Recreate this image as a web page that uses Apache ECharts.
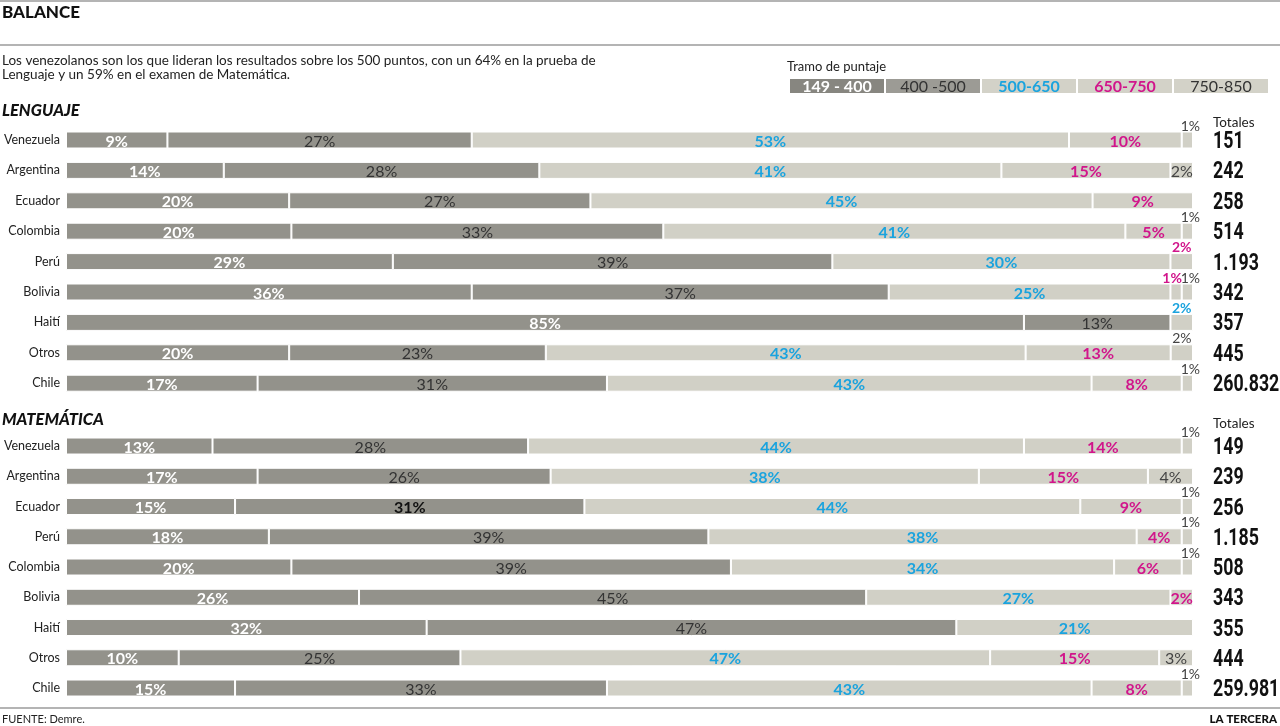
<!DOCTYPE html>
<html>
<head>
<meta charset="utf-8">
<script src="https://cdn.jsdelivr.net/npm/echarts@6/dist/echarts.min.js"></script>
<style>
html,body{margin:0;padding:0;background:#fff;}
#chart{width:1280px;height:726px;}
</style>
</head>
<body>
<div id="chart"></div>
<script>
// ---------- DATA ----------
const bands = ['149 - 400', '400 -500', '500-650', '650-750', '750-850'];

const lengCountries = ['Venezuela', 'Argentina', 'Ecuador', 'Colombia', 'Perú', 'Bolivia', 'Haití', 'Otros', 'Chile'];
const leng149_400 = [9, 14, 20, 20, 29, 36, 85, 20, 17];
const leng400_500 = [27, 28, 27, 33, 39, 37, 13, 23, 31];
const leng500_650 = [53, 41, 45, 41, 30, 25, 2, 43, 43];
const leng650_750 = [10, 15, 9, 5, 2, 1, 0, 13, 8];
const leng750_850 = [1, 2, 0, 1, 0, 1, 0, 2, 1];
const lengTotals = ['151', '242', '258', '514', '1.193', '342', '357', '445', '260.832'];

const matCountries = ['Venezuela', 'Argentina', 'Ecuador', 'Perú', 'Colombia', 'Bolivia', 'Haití', 'Otros', 'Chile'];
const mat149_400 = [13, 17, 15, 18, 20, 26, 32, 10, 15];
const mat400_500 = [28, 26, 31, 39, 39, 45, 47, 25, 33];
const mat500_650 = [44, 38, 44, 38, 34, 27, 21, 47, 43];
const mat650_750 = [14, 15, 9, 4, 6, 2, 0, 15, 8];
const mat750_850 = [1, 4, 1, 1, 1, 0, 0, 3, 1];
const matTotals = ['149', '239', '256', '1.185', '508', '343', '355', '444', '259.981'];

// ---------- STYLE CONFIG ----------
const FONT = 'Lato, "Open Sans", sans-serif';
const barColors = ['#93928b', '#93928b', '#d1d0c6', '#d1d0c6', '#d1d0c6'];
const legendColors = ['#878680', '#9c9b95', '#d3d2c8', '#d3d2c8', '#d3d2c8'];
const labelColors = ['#ffffff', '#333333', '#1aa3de', '#d1158b', '#444444'];
const labelWeights = ['bold', 'normal', 'bold', 'bold', 'normal'];
// labels placed above the bar: [row, bandIndex]
const aboveL = [[0,4],[3,4],[4,3],[5,3],[5,4],[6,2],[7,4],[8,4]];
const aboveM = [[0,4],[2,4],[3,4],[4,4],[8,4]];
const boldDarkM = [[2,1]];

function has(list, r, s) { return list.some(p => p[0] === r && p[1] === s); }

function buildSeries(arrays, stack, xi, yi, above, boldDark) {
  const n = arrays[0].length;
  const sums = [];
  for (let r = 0; r < n; r++) { let s = 0; arrays.forEach(a => s += a[r]); sums.push(s); }
  return arrays.map((arr, si) => ({
    name: bands[si],
    type: 'bar',
    stack: stack,
    xAxisIndex: xi,
    yAxisIndex: yi,
    barWidth: 17,
    itemStyle: { color: barColors[si], borderColor: '#ffffff', borderWidth: 1 },
    label: {
      show: true,
      position: 'inside',
      offset: [0, 1.5],
      fontFamily: FONT,
      fontSize: 16,
      color: labelColors[si],
      fontWeight: labelWeights[si],
      formatter: p => p.data.raw ? p.data.raw + '%' : ''
    },
    data: arr.map((v, r) => {
      if (!v) return { value: null, raw: 0 };
      const d = { value: v / sums[r] * 100, raw: v };
      if (has(above, r, si)) {
        let dx = 0;
        if (v === 1) dx = si === 4 ? 3 : -4;
        d.label = { position: 'top', distance: 0, offset: [dx, 1.5], fontSize: 14 };
      } else if (has(boldDark || [], r, si)) {
        d.label = { fontWeight: 'bold', color: '#111' };
      }
      return d;
    })
  }));
}

function totalsSeries(totals, xi, yi) {
  return {
    type: 'custom',
    xAxisIndex: xi,
    yAxisIndex: yi,
    silent: true,
    clip: false,
    data: totals.map((t, i) => [100, i, t]),
    encode: { x: 0, y: 1 },
    renderItem: (params, api) => {
      const pt = api.coord([api.value(0), api.value(1)]);
      return {
        type: 'text',
        x: pt[0] + 20,
        y: pt[1] + 2,
        scaleX: 0.74,
        style: {
          text: totals[params.dataIndex],
          fontFamily: 'Roboto, "DejaVu Sans", sans-serif',
          fontSize: 24,
          fontWeight: 'bold',
          fill: '#111',
          align: 'left',
          verticalAlign: 'middle'
        }
      };
    }
  };
}

const series = [].concat(
  buildSeries([leng149_400, leng400_500, leng500_650, leng650_750, leng750_850], 'L', 0, 0, aboveL, []),
  buildSeries([mat149_400, mat400_500, mat500_650, mat650_750, mat750_850], 'M', 1, 1, aboveM, boldDarkM),
  [totalsSeries(lengTotals, 0, 0), totalsSeries(matTotals, 1, 1)]
);

function catAxis(grid, data) {
  return {
    gridIndex: grid,
    type: 'category',
    data: data,
    inverse: true,
    axisLine: { show: false },
    axisTick: { show: false },
    splitLine: { show: false },
    axisLabel: { margin: 6, fontFamily: FONT, fontSize: 12.5, color: '#222', padding: [0, 0, 4, 0] }
  };
}

// legend graphics
const legendEls = [];
const lgX0 = 790, lgW = 94, lgGap = 2, lgY = 79, lgH = 14;
bands.forEach((b, i) => {
  const x = lgX0 + i * (lgW + lgGap);
  legendEls.push({ type: 'rect', shape: { x: x, y: lgY, width: lgW, height: lgH }, style: { fill: legendColors[i] } });
  legendEls.push({ type: 'text', style: { text: b, x: x + lgW / 2, y: lgY + lgH / 2 + 1, align: 'center', verticalAlign: 'middle',
    fontFamily: FONT, fontSize: 16, fontWeight: labelWeights[i], fill: i === 0 ? '#ffffff' : (i === 1 || i === 4 ? '#333' : labelColors[i]) } });
});

const graphic = [
  { type: 'rect', shape: { x: 0, y: 0, width: 1280, height: 2 }, style: { fill: '#b4b4b4' } },
  { type: 'text', style: { text: 'BALANCE', x: 2, y: 13, verticalAlign: 'middle', fontFamily: FONT, fontSize: 17, fontWeight: 900, fill: '#111' } },
  { type: 'rect', shape: { x: 0, y: 44, width: 1280, height: 2 }, style: { fill: '#b4b4b4' } },
  { type: 'text', style: { text: 'Los venezolanos son los que lideran los resultados sobre los 500 puntos, con un 64% en la prueba de\nLenguaje y un 59% en el examen de Matemática.',
      x: 2, y: 54, lineHeight: 14, fontFamily: FONT, fontSize: 13.5, fill: '#222' } },
  { type: 'text', style: { text: 'Tramo de puntaje', x: 787, y: 67, verticalAlign: 'middle', fontFamily: FONT, fontSize: 13, fill: '#222' } },
  { type: 'text', style: { text: 'LENGUAJE', x: 2, y: 111, verticalAlign: 'middle', fontFamily: FONT, fontSize: 16.5, fontWeight: 900, fontStyle: 'italic', fill: '#111' } },
  { type: 'text', style: { text: 'MATEMÁTICA', x: 2, y: 420, verticalAlign: 'middle', fontFamily: FONT, fontSize: 16.5, fontWeight: 900, fontStyle: 'italic', fill: '#111' } },
  { type: 'text', style: { text: 'Totales', x: 1213, y: 123, verticalAlign: 'middle', fontFamily: FONT, fontSize: 13.5, fill: '#222' } },
  { type: 'text', style: { text: 'Totales', x: 1213, y: 424, verticalAlign: 'middle', fontFamily: FONT, fontSize: 13.5, fill: '#222' } },
  { type: 'rect', shape: { x: 0, y: 707, width: 1280, height: 2 }, style: { fill: '#b4b4b4' } },
  { type: 'text', style: { text: 'FUENTE: Demre.', x: 2, y: 719, verticalAlign: 'middle', fontFamily: FONT, fontSize: 11, fill: '#222' } },
  { type: 'text', style: { text: 'LA TERCERA', x: 1277, y: 719, align: 'right', verticalAlign: 'middle', fontFamily: FONT, fontSize: 11.5, fontWeight: 900, fill: '#111' } }
].concat(legendEls);

const chart = echarts.init(document.getElementById('chart'), null, { renderer: 'canvas' });
chart.setOption({
  animation: false,
  backgroundColor: '#ffffff',
  textStyle: { fontFamily: FONT },
  grid: [
    { left: 66, right: 87, top: 124.8, height: 273.6, containLabel: false, outerBoundsMode: 'none' },
    { left: 66, right: 87, top: 430.9, height: 272.25, containLabel: false, outerBoundsMode: 'none' }
  ],
  xAxis: [
    { gridIndex: 0, type: 'value', min: 0, max: 100, show: false },
    { gridIndex: 1, type: 'value', min: 0, max: 100, show: false }
  ],
  yAxis: [
    catAxis(0, lengCountries),
    catAxis(1, matCountries)
  ],
  series: series,
  graphic: graphic
});
</script>
</body>
</html>
